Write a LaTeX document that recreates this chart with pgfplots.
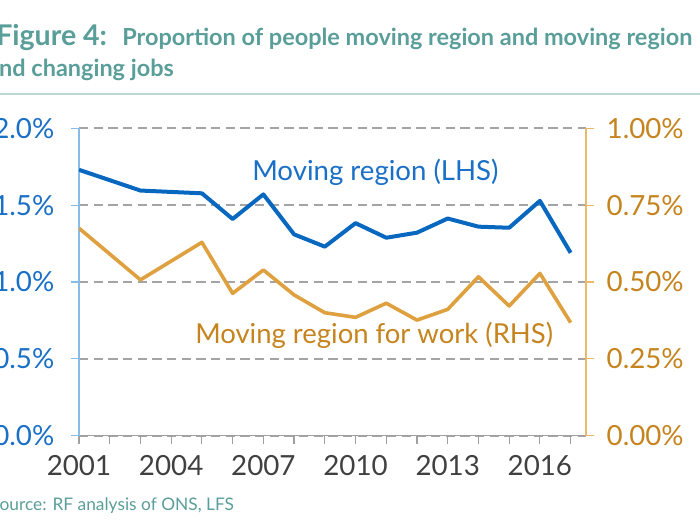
\documentclass[border=0pt]{standalone}
\usepackage{fontspec}
\setmainfont{Lato}
\usepackage{pgfplots}
\pgfplotsset{compat=1.18}

\definecolor{lineBlue}{HTML}{0868C0}
\definecolor{textBlue}{HTML}{1A6FC6}
\definecolor{axBlue}{HTML}{86BDE8}
\definecolor{lineOrange}{HTML}{DFA03F}
\definecolor{textOrange}{HTML}{C5841E}
\definecolor{axOrange}{HTML}{EBB96A}
\definecolor{teal}{HTML}{5A9E99}
\definecolor{ruleTeal}{HTML}{BAD9D5}
\definecolor{gridGray}{HTML}{A4A4A4}
\definecolor{axGray}{HTML}{A0A0A0}
\definecolor{tickText}{HTML}{404040}

\pgfplotstableread{
year share
2001 1.730
2003 1.595
2005 1.577
2006 1.410
2007 1.570
2008 1.310
2009 1.230
2010 1.383
2011 1.288
2012 1.321
2013 1.413
2014 1.360
2015 1.353
2016 1.528
2017 1.190
}\movingregion

\pgfplotstableread{
year share
2001 0.675
2003 0.507
2005 0.629
2006 0.463
2007 0.539
2008 0.458
2009 0.400
2010 0.385
2011 0.431
2012 0.376
2013 0.411
2014 0.517
2015 0.422
2016 0.528
2017 0.368
}\movingwork

% 1px of the reference = 0.75pt
\pgfplotsset{
    twin/.style={
        at={(59.25pt,66.975pt)}, anchor=south west, scale only axis,
        width=380.25pt, height=230.55pt,
        xmin=2001, xmax=2017.5, ymin=0,
        tick align=outside, major tick length=6pt,
        tick label style={font=\fontsize{20.8}{22}\selectfont},
    }
}

\begin{document}
\begin{tikzpicture}
\path[use as bounding box] (0,0) rectangle (525pt,393.75pt);

% left axis, moving region
\begin{axis}[twin, ymax=2,
    axis x line*=bottom, axis y line*=left,
    x axis line style={draw=axGray, line width=1pt, -},
    y axis line style={draw=axBlue, line width=0.8pt, -},
    xtick={2001,...,2017},
    xticklabels={2001,,,2004,,,2007,,,2010,,,2013,,,2016,},
    xtick style={draw=axGray, line width=0.9pt},
    xticklabel style={text=tickText, yshift=-5pt},
    ytick={0,0.5,1,1.5,2},
    yticklabels={0.0\%,0.5\%,1.0\%,1.5\%,2.0\%},
    ytick style={draw=axBlue, line width=0.8pt},
    yticklabel style={text=textBlue, xshift=-9pt},
    ymajorgrids,
    major grid style={draw=gridGray, line width=1.5pt, dash pattern=on 7pt off 4pt},
]
    \addplot[lineBlue, line width=3pt, line join=round] table[x=year, y=share] {\movingregion};
\end{axis}

% right axis, moving region for work
\begin{axis}[twin, ymax=1,
    axis x line=none, axis y line*=right,
    y axis line style={draw=axOrange, line width=0.8pt, -},
    ytick={0,0.25,0.5,0.75,1},
    yticklabels={0.00\%,0.25\%,0.50\%,0.75\%,1.00\%},
    ytick style={draw=axOrange, line width=0.8pt},
    yticklabel style={text=textOrange, xshift=6pt},
]
    \addplot[lineOrange, line width=2.7pt, line join=round] table[x=year, y=share] {\movingwork};
\end{axis}

\begin{scope}[x=0.75pt, y=0.75pt]
% series labels
\node[anchor=west, text=textBlue, font=\fontsize{20.7}{22}\selectfont, inner sep=0pt] at (252,353) {Moving region (LHS)};
\node[anchor=west, text=textOrange, font=\fontsize{20.6}{22}\selectfont, inner sep=0pt] at (195,190) {Moving region for work (RHS)};

% title and source
\node[anchor=base west, text=teal, font=\bfseries\fontsize{21.4}{24}\selectfont, inner sep=0pt] at (-4,479) {Figure 4:};
\node[anchor=base west, text=teal, font=\bfseries\fontsize{17.6}{20}\selectfont, inner sep=0pt] at (122,479) {Proportion of people moving region and moving region};
\node[anchor=base west, text=teal, font=\bfseries\fontsize{17.6}{20}\selectfont, inner sep=0pt] at (-13,448) {and changing jobs};
\draw[ruleTeal, line width=1.2pt] (0,431) -- (700,431);
\node[anchor=base west, text=teal, font=\fontsize{13}{15}\selectfont, inner sep=0pt] at (-10,15) {Source: RF analysis of ONS, LFS};
\end{scope}
\end{tikzpicture}
\end{document}
